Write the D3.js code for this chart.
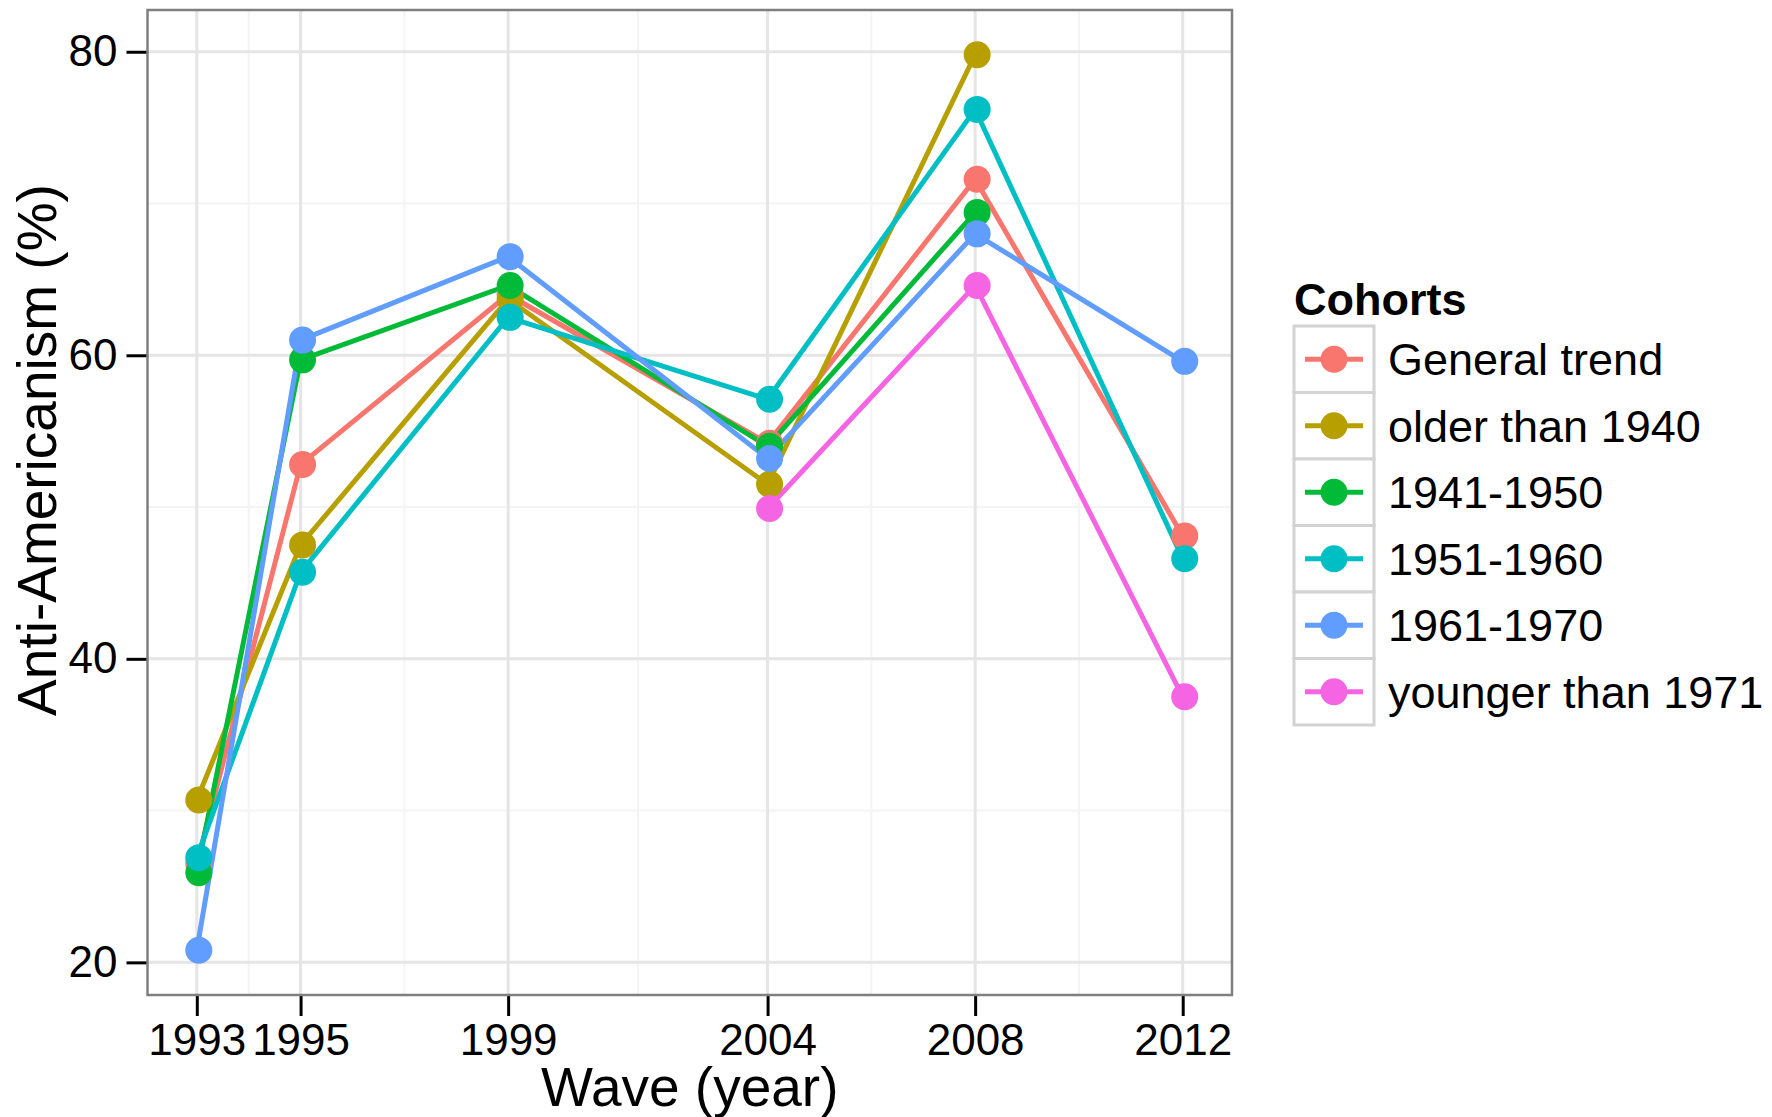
<!DOCTYPE html>
<html><head><meta charset="utf-8">
<script src="https://cdn.jsdelivr.net/npm/d3@7/dist/d3.min.js"></script>
<style>body{margin:0;background:#fff}svg{display:block}text{font-family:"Liberation Sans",Arial,Helvetica,sans-serif}</style>
</head><body><svg id="c" width="1772" height="1117"></svg>
<script>
const years = [1993, 1995, 1999, 2004, 2008, 2012];
const yTicks = [20, 40, 60, 80];
const yMinor = [30, 50, 70];
const xMinor = [1994, 1997, 2001.5, 2006, 2010];
const cohorts = ["General trend", "older than 1940", "1941-1950", "1951-1960", "1961-1970", "younger than 1971"];
const colors = ["#F8766D", "#B79F00", "#00BA38", "#00BFC4", "#619CFF", "#F564E3"];
const generalTrend = [26.5, 52.8, 64.0, 54.2, 71.6, 48.1];
const olderThan1940 = [30.7, 47.5, 63.7, 51.5, 79.8, null];
const c1941_1950 = [25.9, 59.7, 64.6, 54.0, 69.4, null];
const c1951_1960 = [26.9, 45.7, 62.5, 57.1, 76.2, 46.6];
const c1961_1970 = [20.8, 61.0, 66.5, 53.2, 68.0, 59.6];
const youngerThan1971 = [null, null, null, 49.9, 64.6, 37.5];
const seriesValues = [generalTrend, olderThan1940, c1941_1950, c1951_1960, c1961_1970, youngerThan1971];

const svg = d3.select("#c");
const P = {l: 147.5, r: 1232, t: 10, b: 995};
const allV = seriesValues.flat().filter(v => v != null);
const yMin = d3.min(allV), yMax = d3.max(allV), yPad = (yMax - yMin) * 0.05;
const x = d3.scaleLinear().domain([1993 - 19 * 0.05, 2012 + 19 * 0.05]).range([P.l, P.r]);
const y = d3.scaleLinear().domain([yMin - yPad, yMax + yPad]).range([P.b, P.t]);

const g = svg.append("g");
g.selectAll(".mx").data(xMinor).join("line").attr("x1", d => x(d)).attr("x2", d => x(d))
  .attr("y1", P.t).attr("y2", P.b).attr("stroke", "#f4f4f4").attr("stroke-width", 2);
g.selectAll(".my").data(yMinor).join("line").attr("y1", d => y(d)).attr("y2", d => y(d))
  .attr("x1", P.l).attr("x2", P.r).attr("stroke", "#f4f4f4").attr("stroke-width", 2);
g.selectAll(".gx").data(years).join("line").attr("x1", d => x(d)).attr("x2", d => x(d))
  .attr("y1", P.t).attr("y2", P.b).attr("stroke", "#e5e5e5").attr("stroke-width", 3);
g.selectAll(".gy").data(yTicks).join("line").attr("y1", d => y(d)).attr("y2", d => y(d))
  .attr("x1", P.l).attr("x2", P.r).attr("stroke", "#e5e5e5").attr("stroke-width", 3);

const xAxis = svg.append("g").attr("transform", `translate(0,${P.b})`)
  .call(d3.axisBottom(x).tickValues(years).tickFormat(d3.format("d")).tickSize(21).tickPadding(8));
const yAxis = svg.append("g").attr("transform", `translate(${P.l},0)`)
  .call(d3.axisLeft(y).tickValues(yTicks).tickSize(21).tickPadding(9));
[xAxis, yAxis].forEach(a => {
  a.select(".domain").remove();
  a.selectAll(".tick line").attr("stroke", "#000").attr("stroke-width", 3);
  a.selectAll(".tick text").attr("font-size", 44).attr("fill", "#000")
    .attr("font-family", "'Liberation Sans', Arial, sans-serif");
});

const line = d3.line().defined(d => d.v != null).x(d => x(d.year)).y(d => y(d.v));
const series = cohorts.map((c, i) => ({name: c, color: colors[i],
  pts: years.map((yr, j) => ({year: yr, v: seriesValues[i][j]}))}));
svg.append("g").selectAll("path").data(series).join("path")
  .attr("d", d => line(d.pts)).attr("fill", "none").attr("stroke", d => d.color)
  .attr("stroke-width", 5);
svg.append("g").selectAll("g").data(series).join("g").attr("fill", d => d.color)
  .selectAll("circle").data(d => d.pts.filter(p => p.v != null)).join("circle")
  .attr("cx", p => x(p.year) + 2).attr("cy", p => y(p.v)).attr("r", 13.5);

svg.append("rect").attr("x", P.l).attr("y", P.t).attr("width", P.r - P.l).attr("height", P.b - P.t)
  .attr("fill", "none").attr("stroke", "#7f7f7f").attr("stroke-width", 2.5);

svg.append("text").attr("x", (P.l + P.r) / 2).attr("y", 1106).attr("text-anchor", "middle")
  .attr("font-size", 55).text("Wave (year)");
svg.append("text").attr("transform", `translate(56,450) rotate(-90)`)
  .attr("text-anchor", "middle").attr("font-size", 55).text("Anti-Americanism (%)");

const L = {x: 1294, y: 326, w: 80, h: 66.5};
svg.append("text").attr("x", L.x).attr("y", 315).attr("font-size", 45).attr("font-weight", "bold").text("Cohorts");
const lg = svg.append("g").selectAll("g").data(series).join("g")
  .attr("transform", (d, i) => `translate(${L.x},${L.y + i * L.h})`);
lg.append("rect").attr("width", L.w).attr("height", L.h).attr("fill", "#fff")
  .attr("stroke", "#d3d3d3").attr("stroke-width", 3);
lg.append("line").attr("x1", 11).attr("x2", L.w - 11).attr("y1", L.h / 2).attr("y2", L.h / 2)
  .attr("stroke", d => d.color).attr("stroke-width", 5);
lg.append("circle").attr("cx", L.w / 2).attr("cy", L.h / 2).attr("r", 13.5).attr("fill", d => d.color);
lg.append("text").attr("x", L.w + 14).attr("y", L.h / 2 + 16).attr("font-size", 45).text(d => d.name);
</script></body></html>
